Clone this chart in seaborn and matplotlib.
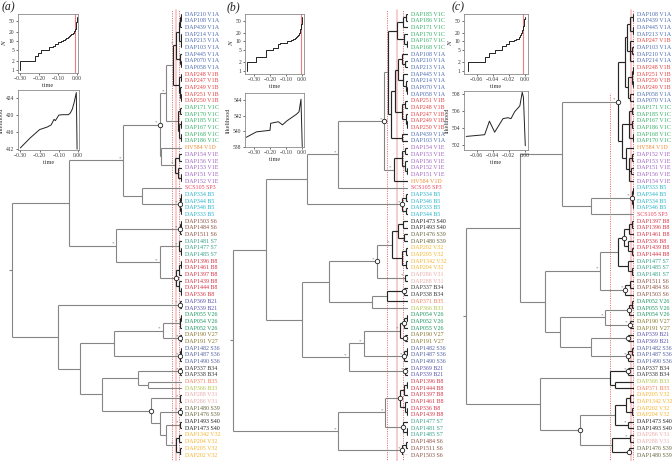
import matplotlib
matplotlib.use("Agg")
import matplotlib.pyplot as plt
from matplotlib.collections import LineCollection
from matplotlib.transforms import ScaledTranslation
from matplotlib.ticker import FixedLocator, FuncFormatter, NullLocator
import seaborn as sns
import pandas as pd

# ---------------- DATA ----------------
tips_a = ["DAP210 V1A", "DAP108 V1A", "DAP439 V1A", "DAP214 V1A", "DAP213 V1A", "DAP103 V1A",
          "DAP445 V1A", "DAP070 V1A", "DAP058 V1A", "DAP248 V1B", "DAP247 V1B", "DAP249 V1B",
          "DAP251 V1B", "DAP250 V1B", "DAP171 V1C", "DAP170 V1C", "DAP185 V1C", "DAP167 V1C",
          "DAP168 V1C", "DAP186 V1C", "HV584 V1D", "DAP154 V1E", "DAP156 V1E", "DAP153 V1E",
          "DAP151 V1E", "DAP152 V1E", "SCS105 SP3", "DAP334 B5", "DAP344 B5", "DAP346 B5",
          "DAP333 B5", "DAP1503 S6", "DAP1484 S6", "DAP1511 S6", "DAP1481 S7", "DAP1477 S7",
          "DAP1485 S7", "DAP1396 B8", "DAP1461 B8", "DAP1397 B8", "DAP1439 B8", "DAP1444 B8",
          "DAP336 B8", "DAP369 B21", "DAP339 B21", "DAP055 V26", "DAP054 V26", "DAP052 V26",
          "DAP190 V27", "DAP191 V27", "DAP1482 S36", "DAP1487 S36", "DAP1490 S36", "DAP337 B34",
          "DAP338 B34", "DAP371 B35", "DAP366 B33", "DAP288 V31", "DAP286 V31", "DAP1480 S39",
          "DAP1476 S39", "DAP1493 S40", "DAP1473 S40", "DAP1342 V32", "DAP204 V32", "DAP205 V32",
          "DAP202 V32"]

tips_b = ["DAP185 V1C", "DAP186 V1C", "DAP171 V1C", "DAP170 V1C", "DAP167 V1C", "DAP168 V1C",
          "DAP108 V1A", "DAP210 V1A", "DAP213 V1A", "DAP445 V1A", "DAP214 V1A", "DAP070 V1A",
          "DAP058 V1A", "DAP251 V1B", "DAP248 V1B", "DAP247 V1B", "DAP249 V1B", "DAP250 V1B",
          "DAP439 V1A", "DAP103 V1A", "DAP154 V1E", "DAP153 V1E", "DAP156 V1E", "DAP152 V1E",
          "DAP151 V1E", "HV584 V1D", "SCS105 SP3", "DAP334 B5", "DAP346 B5", "DAP333 B5",
          "DAP344 B5", "DAP1473 S40", "DAP1493 S40", "DAP1476 S39", "DAP1480 S39", "DAP202 V32",
          "DAP205 V32", "DAP1342 V32", "DAP204 V32", "DAP286 V31", "DAP288 V31", "DAP337 B34",
          "DAP338 B34", "DAP371 B35", "DAP366 B33", "DAP054 V26", "DAP052 V26", "DAP055 V26",
          "DAP190 V27", "DAP191 V27", "DAP1482 S36", "DAP1487 S36", "DAP1490 S36", "DAP369 B21",
          "DAP339 B21", "DAP1396 B8", "DAP1444 B8", "DAP1397 B8", "DAP1461 B8", "DAP336 B8",
          "DAP1439 B8", "DAP1477 S7", "DAP1481 S7", "DAP1485 S7", "DAP1484 S6", "DAP1511 S6",
          "DAP1503 S6"]

tips_c = ["DAP108 V1A", "DAP439 V1A", "DAP445 V1A", "DAP213 V1A", "DAP247 V1B", "DAP103 V1A",
          "DAP210 V1A", "DAP214 V1A", "DAP248 V1B", "DAP251 V1B", "DAP250 V1B", "DAP249 V1B",
          "DAP058 V1A", "DAP070 V1A", "DAP171 V1C", "DAP185 V1C", "DAP167 V1C", "DAP186 V1C",
          "DAP168 V1C", "DAP170 V1C", "HV584 V1D", "DAP152 V1E", "DAP153 V1E", "DAP151 V1E",
          "DAP156 V1E", "DAP154 V1E", "DAP333 B5", "DAP344 B5", "DAP334 B5", "DAP346 B5",
          "SCS105 SP3", "DAP1397 B8", "DAP1396 B8", "DAP1461 B8", "DAP336 B8", "DAP1439 B8",
          "DAP1444 B8", "DAP1477 S7", "DAP1485 S7", "DAP1481 S7", "DAP1511 S6", "DAP1484 S6",
          "DAP1503 S6", "DAP052 V26", "DAP055 V26", "DAP054 V26", "DAP190 V27", "DAP191 V27",
          "DAP339 B21", "DAP369 B21", "DAP1482 S36", "DAP1487 S36", "DAP1490 S36", "DAP337 B34",
          "DAP338 B34", "DAP366 B33", "DAP371 B35", "DAP205 V32", "DAP1342 V32", "DAP202 V32",
          "DAP204 V32", "DAP1473 S40", "DAP1493 S40", "DAP286 V31", "DAP288 V31", "DAP1476 S39",
          "DAP1480 S39"]

# tree nodes: (node time, support mark, children); leaves are tip indices (time 0)
tree_a = (-0.300, '', [
    (-0.199, '', [
        (-0.104, '*', [
            (-0.039, 'o*', [
                (-0.028, '*', [
                    (-0.016, '', [
                        (-0.011, '*', [
                            (-0.006, '', [(-0.003, '', [(-0.001, '', [0, 1]), 2]), (-0.002, '', [3, 4, 5])]),
                            (-0.004, '', [6, (-0.002, '', [7, 8])])]),
                        (-0.006, '', [(-0.002, '', [9, 10]), (-0.003, '', [11, (-0.001, '', [12, 13])])])]),
                    (-0.007, '', [(-0.004, '', [14, 15]),
                                  (-0.005, '', [(-0.002, '', [16, 17]), (-0.001, '', [18, 19])])])]),
                (-0.037, '', [20,
                              (-0.012, '*', [(-0.006, '', [21, 22]),
                                             (-0.007, '', [23, (-0.002, '', [24, 25])])])])]),
            (-0.071, '', [26,
                          (-0.004, 'o*', [(-0.002, '', [27, 28]), (-0.002, '', [29, 30])])])]),
        (-0.116, '*', [
            (-0.004, 'o*', [(-0.002, '', [31, 32]), 33]),
            (-0.039, '*', [
                (-0.005, '*', [34, (-0.002, '', [35, 36])]),
                (-0.011, 'o', [(-0.006, '', [(-0.002, '', [37, 38]), 39]),
                               (-0.006, '', [40, (-0.002, '', [41, 42])])])])])]),
    (-0.219, '', [
        (-0.004, 'o*', [43, 44]),
        (-0.180, '', [
            (-0.120, '', [
                (-0.034, '*', [
                    (-0.004, '*', [(-0.002, '', [45, 46]), 47]),
                    (-0.003, 'o*', [48, 49])]),
                (-0.003, 'o*', [(-0.001, '', [50, 51]), 52])]),
            (-0.141, '', [
                (-0.078, '', [
                    (-0.003, 'o*', [53, 54]),
                    (-0.060, '', [55, 56])]),
                (-0.055, 'o', [
                    (-0.003, '*', [57, 58]),
                    (-0.039, '', [
                        (-0.004, 'o*', [59, 60]),
                        (-0.028, '', [
                            (-0.003, '*', [61, 62]),
                            (-0.011, '*', [(-0.005, '', [63, 64]), (-0.003, '', [65, 66])])])])])])])])])

tree_b = (-0.360, '', [
    (-0.292, '', [
        (-0.208, '', [
            (-0.144, '*', [
                (-0.049, 'o*', [
                    (-0.041, '', [
                        (-0.023, '', [(-0.010, '', [(-0.004, '', [0, 1]), 2]),
                                      (-0.008, '', [3, (-0.003, '', [4, 5])])]),
                        (-0.035, '', [
                            (-0.027, '', [
                                (-0.021, '', [(-0.012, '', [6, (-0.006, '', [7, 8])]),
                                              (-0.010, '', [9, (-0.005, '', [10, (-0.002, '', [11, 12])])])]),
                                (-0.012, '', [(-0.006, '', [13, 14]), (-0.004, '', [15, (-0.002, '', [16, 17])])])]),
                            (-0.012, '', [18, 19])])]),
                    (-0.029, '*', [
                        (-0.012, '', [(-0.006, '', [20, 21]), (-0.007, '', [22, (-0.003, '', [23, 24])])]),
                        25])]),
                26]),
            (-0.012, 'o*', [(-0.005, '', [27, 28]), (-0.004, '', [29, 30])])]),
        (-0.218, '', [
            (-0.163, '', [
                (-0.064, 'o*', [
                    (-0.033, '*', [
                        (-0.021, '', [(-0.010, '', [31, 32]), (-0.008, '', [33, 34])]),
                        (-0.012, '', [(-0.005, '', [35, 36]), (-0.004, '', [37, 38])])]),
                    (-0.006, '*', [39, 40])]),
                (-0.074, '', [
                    (-0.043, '', [(-0.008, 'o', [41, 42]), 43]),
                    44])]),
            (-0.122, '*', [
                (-0.091, '*', [
                    (-0.016, '*', [
                        (-0.008, 'o', [(-0.003, '', [45, 46]), 47]),
                        (-0.006, 'o', [48, 49])]),
                    (-0.008, 'o*', [(-0.003, '', [50, 51]), 52])]),
                (-0.006, 'o*', [53, 54])])])]),
    (-0.144, '*', [
        (-0.047, '*', [
            (-0.016, 'o', [(-0.008, '', [(-0.003, '', [55, 56]), 57]),
                           (-0.006, '', [58, (-0.002, '', [59, 60])])]),
            (-0.010, 'o', [61, (-0.003, '', [62, 63])])]),
        (-0.012, 'o*', [(-0.004, '', [64, 65]), 66])])])

tree_c = (-0.070, '', [
    (-0.0475, '', [
        (-0.030, '', [
            (-0.0067, 'o*', [
                (-0.0038, '', [
                    (-0.0028, '', [
                        (-0.0015, '', [(-0.0006, '', [0, 1]), (-0.0004, '', [2, 3])]),
                        (-0.0018, '', [4, (-0.001, '', [5, 6]), 7])]),
                    (-0.0025, '', [
                        (-0.001, '', [(-0.0005, '', [8, 9]), (-0.0004, '', [10, 11])]),
                        (-0.0015, '', [12, 13])])]),
                (-0.005, '', [
                    (-0.002, '', [(-0.001, '', [14, 15]), (-0.0008, '', [16, 17]), (-0.0006, '', [18, 19])]),
                    (-0.0035, '', [20, (-0.0022, '', [(-0.001, '', [21, 22]), (-0.0012, '', [23, 24]), 25])])])]),
            (-0.018, '', [
                (-0.001, 'o*', [(-0.0005, '', [26, 27]), (-0.0004, '', [28, 29])]),
                30])]),
        (-0.037, '', [
            (-0.014, '*', [
                (-0.0067, '', [
                    (-0.0042, 'o', [(-0.002, '', [(-0.001, '', [31, 32]), 33]),
                                    (-0.0025, '', [34, (-0.001, '', [35, 36])])]),
                    (-0.0025, '', [37, (-0.001, '', [38, 39])])]),
                (-0.0037, 'o*', [(-0.0015, '', [40, 41]), 42])]),
            (-0.031, '', [
                (-0.012, '*', [
                    (-0.002, 'o', [(-0.001, '', [43, 44]), 45]),
                    (-0.0017, 'o*', [46, 47])]),
                (-0.018, '', [
                    (-0.0025, 'o', [48, 49]),
                    (-0.0025, 'o*', [(-0.001, '', [50, 51]), 52])])])])]),
    (-0.039, '', [
        (-0.010, '', [
            (-0.0025, 'o*', [53, 54]),
            (-0.008, '', [55, 56])]),
        (-0.0225, 'o', [
            (-0.008, '', [
                (-0.0033, '', [(-0.0015, '', [57, 58]), (-0.001, '', [59, 60])]),
                (-0.0025, '*', [61, 62])]),
            (-0.009, '', [
                (-0.0017, '*', [63, 64]),
                (-0.002, 'o', [65, 66])])])])])

# threshold time and its confidence bounds (lower, estimate, upper) in tree time units
thr_a = [-0.0176, -0.0106, -0.0053]
thr_b = [-0.043, -0.0226, -0.0103]
thr_c = [-0.010, -0.0013, -0.0004]

# lineage-through-time steps
ltt_t_a = [-0.300, -0.300, -0.223, -0.209, -0.191, -0.146, -0.125, -0.116, -0.100, -0.087, -0.074,
           -0.066, -0.058, -0.050, -0.044, -0.038, -0.032, -0.027, -0.022, -0.018, -0.014, -0.011,
           -0.008, -0.006, -0.004, -0.002, -0.001, 0.0]
ltt_n_a = [1, 2, 3, 4, 5, 6, 7, 8, 9, 10, 11, 12, 13, 14, 15, 16, 17, 18, 19, 20, 22, 25, 30, 36,
           44, 54, 62, 67]
ltt_t_b = [-0.345, -0.345, -0.285, -0.228, -0.180, -0.148, -0.136, -0.095, -0.068, -0.053, -0.044,
           -0.036, -0.030, -0.025, -0.020, -0.016, -0.012, -0.009, -0.006, -0.004, -0.002, -0.001, 0.0]
ltt_n_b = [1, 2, 3, 5, 6, 8, 9, 10, 11, 12, 13, 14, 15, 16, 18, 20, 23, 27, 33, 40, 50, 60, 67]
ltt_t_c = [-0.0708, -0.0708, -0.049, -0.044, -0.0375, -0.028, -0.023, -0.019, -0.0133, -0.0104,
           -0.0075, -0.0055, -0.004, -0.003, -0.002, -0.0012, -0.0006, 0.0]
ltt_n_c = [1, 2, 3, 4, 5, 7, 8, 10, 11, 12, 14, 17, 20, 25, 33, 45, 58, 67]
ltt_red = [-0.012, -0.008, -0.0022]

# likelihood profiles
lik_t_a = [-0.300, -0.250, -0.200, -0.160, -0.140, -0.125, -0.118, -0.100, -0.080, -0.050, -0.040,
           -0.030, -0.020, -0.009, -0.005]
lik_v_a = [412.3, 414.6, 416.6, 417.2, 417.7, 419.0, 418.7, 420.0, 420.1, 420.1, 420.5, 421.4,
           423.0, 425.3, 412.0]
lik_t_b = [-0.349, -0.285, -0.200, -0.196, -0.148, -0.122, -0.095, -0.053, -0.032, -0.018, -0.006, 0.002]
lik_v_b = [539.2, 539.9, 540.1, 541.0, 541.2, 540.8, 541.3, 541.9, 542.2, 542.5, 544.1, 538.0]
lik_t_c = [-0.073, -0.050, -0.044, -0.0375, -0.027, -0.021, -0.017, -0.0125, -0.006, -0.003,
           -0.0015, 0.0008]
lik_v_c = [503.0, 503.2, 504.8, 503.5, 505.1, 505.2, 505.1, 505.9, 506.6, 508.2, 507.6, 501.9]

time_ticks_ab = [-0.30, -0.20, -0.10, 0.00]
time_ticks_c = [-0.06, -0.04, -0.02, 0.00]
n_ticks = [1, 2, 5, 10, 20, 50]
lik_ticks_a = [412, 416, 420, 424]
lik_ticks_b = [538, 540, 542, 544]
lik_ticks_c = [502, 504, 506, 508]
panel_labels = ["(a)", "(b)", "(c)"]

CLADE_COLORS = {
    "V1A": "#4f6db2", "V1B": "#e54444", "V1C": "#34b066", "V1D": "#f28c36", "V1E": "#a062c2",
    "SP3": "#e9465e", "B5": "#26b4ca", "S6": "#8c5040", "S7": "#33a086", "B8": "#d43244",
    "B21": "#5850aa", "V26": "#1c9660", "V27": "#857428", "S36": "#52619e", "B34": "#383838",
    "B35": "#f27e58", "B33": "#aec448", "V31": "#eaaaaa", "S39": "#66663e", "S40": "#262626",
    "V32": "#f6b42e",
}

# ---------------- STYLE / FIGURE ----------------
sns.set_theme(style="white")
plt.rcParams["font.family"] = ["Liberation Serif", "DejaVu Serif"]
plt.rcParams["axes.unicode_minus"] = True

W, H = 672, 461
fig = plt.figure(figsize=(W / 100, H / 100), dpi=100)
TOP_PX, BOT_PX = 14, 455


def fx(px):
    return px / W


def walk(node, segs, marks):
    if isinstance(node, int):
        return 0.0, float(node)
    t, mark, kids = node
    ys = []
    for k in kids:
        kt, ky = walk(k, segs, marks)
        segs.append(((t, ky), (kt, ky), t))
        ys.append(ky)
    y = 0.5 * (min(ys) + max(ys))
    segs.append(((t, min(ys)), (t, max(ys)), t))
    marks.append((t, y, mark))
    return t, y


def draw_tree(tree, tips, root_px, tip_px, thr, first_line_top=0.0):
    root_t = tree[0]
    scale = (tip_px - root_px) / (-root_t)
    left_px = root_px - 5
    ax = fig.add_axes([fx(left_px), 1 - BOT_PX / H, (tip_px - left_px) / W, (BOT_PX - TOP_PX) / H])
    ax.set_xlim(root_t - 5 / scale, 0)
    ax.set_ylim(len(tips) - 1, 0)
    ax.axis("off")
    # threshold lines
    for i, t in enumerate(thr):
        if i == 1:
            ax.axvline(t, ymin=-0.02, ymax=1.01, color="#f7cccc", lw=1.4, clip_on=False, zorder=0)
        else:
            top = 1.01 if i == 2 else 1.01 - first_line_top
            ax.axvline(t, ymin=-0.02, ymax=top, color="#e57a7a", lw=0.7, ls=(0, (1.2, 1.2)),
                       clip_on=False, zorder=0)
    segs, marks = [], []
    rt, ry = walk(tree, segs, marks)
    segs.append(((rt - 3 / scale, ry), (rt, ry), rt))
    dark_thr = thr[0]
    light = [s[:2] for s in segs if s[2] < dark_thr]
    dark = [s[:2] for s in segs if s[2] >= dark_thr]
    ax.add_collection(LineCollection(light, colors="#858585", linewidths=0.8, zorder=2))
    ax.add_collection(LineCollection(dark, colors="#262626", linewidths=0.85, zorder=3))
    star_off = ScaledTranslation(-3.5 / 100, 2 / 100, fig.dpi_scale_trans)
    for t, y, m in marks:
        if "o" in m:
            ax.plot([t], [y], "o", ms=3.2, mfc="white", mec="#222222", mew=0.6, zorder=5)
        if "*" in m:
            ax.text(t, y, "*", transform=ax.transData + star_off, fontsize=3.6, color="#777777",
                    ha="center", va="center", zorder=5)
    off = ScaledTranslation(3 / 100, 0, fig.dpi_scale_trans)
    for i, lab in enumerate(tips):
        clade = lab.split()[-1]
        ax.text(0, i, lab, transform=ax.transData + off, fontsize=4.3,
                color=CLADE_COLORS[clade], ha="left", va="center", clip_on=False)
    return ax


def fmt_time(v, p):
    s = f"{v:.2f}"
    if s == "-0.00":
        s = "0.00"
    return s.replace("-", "\u2212")


def inset(box, tvals, yvals, xlim, xticks, ylim, yticks, ylabel, log=False, steps=False,
          red=None, italic=False):
    x0, y0, x1, y1 = box
    ax = fig.add_axes([fx(x0), 1 - y1 / H, (x1 - x0) / W, (y1 - y0) / H])
    df = pd.DataFrame({"time": tvals, "val": yvals})
    sns.lineplot(data=df, x="time", y="val", ax=ax, color="#222222", lw=0.7, estimator=None,
                 sort=False, drawstyle="steps-post" if steps else "default")
    if red is not None:
        ax.axvline(red, color="#e88080", lw=0.8, zorder=1)
    if log:
        ax.set_yscale("log")
    ax.set_xlim(*xlim)
    ax.set_ylim(*ylim)
    ax.xaxis.set_major_locator(FixedLocator(xticks))
    ax.xaxis.set_major_formatter(FuncFormatter(fmt_time))
    ax.yaxis.set_major_locator(FixedLocator(yticks))
    ax.yaxis.set_major_formatter(FuncFormatter(lambda v, p: f"{v:g}"))
    ax.yaxis.set_minor_locator(NullLocator())
    ax.xaxis.set_minor_locator(NullLocator())
    ax.tick_params(axis="both", which="major", labelsize=4, length=1.5, width=0.5, pad=1,
                   bottom=True, left=True, colors="#333333")
    for sp in ax.spines.values():
        sp.set_color("#8a8a8a")
        sp.set_linewidth(0.6)
    ax.set_xlabel("time", fontsize=4.5, labelpad=1, color="#333333")
    ax.set_ylabel(ylabel, fontsize=5 if italic else 4.5, labelpad=1.5, color="#333333",
                  style="italic" if italic else "normal")
    return ax


# trees
draw_tree(tree_a, tips_a, 12, 182, thr_a)
draw_tree(tree_b, tips_b, 233, 408, thr_b)
draw_tree(tree_c, tips_c, 466, 634, thr_c, first_line_top=0.19)

# insets
inset((18, 14, 78, 73), ltt_t_a, ltt_n_a, (-0.3125, 0.005), time_ticks_ab, (0.8, 84), n_ticks, "N",
      log=True, steps=True, red=ltt_red[0], italic=True)
inset((18, 90, 79, 150), lik_t_a, lik_v_a, (-0.3125, 0.005), time_ticks_ab, (411.8, 425.9),
      lik_ticks_a, "likelihood")
inset((245, 14, 304, 74), ltt_t_b, ltt_n_b, (-0.357, 0.013), time_ticks_ab, (0.8, 84), n_ticks, "N",
      log=True, steps=True, red=ltt_red[1], italic=True)
inset((245, 93, 304, 147), lik_t_b, lik_v_b, (-0.357, 0.013), time_ticks_ab, (537.95, 544.9),
      lik_ticks_b, "likelihood")
inset((464, 14, 528, 74), ltt_t_c, ltt_n_c, (-0.0758, 0.0042), time_ticks_c, (0.8, 84), n_ticks, "N",
      log=True, steps=True, red=ltt_red[2], italic=True)
inset((464, 91, 528, 150), lik_t_c, lik_v_c, (-0.0758, 0.0042), time_ticks_c, (501.4, 508.35),
      lik_ticks_c, "likelihood")

# panel letters
for lab, px in zip(panel_labels, [2, 227, 452]):
    fig.text(fx(px), 1 - 1.5 / H, lab, ha="left", va="top", fontsize=8.5, style="italic",
             color="#222222")

fig.savefig("out.png", dpi=100)
